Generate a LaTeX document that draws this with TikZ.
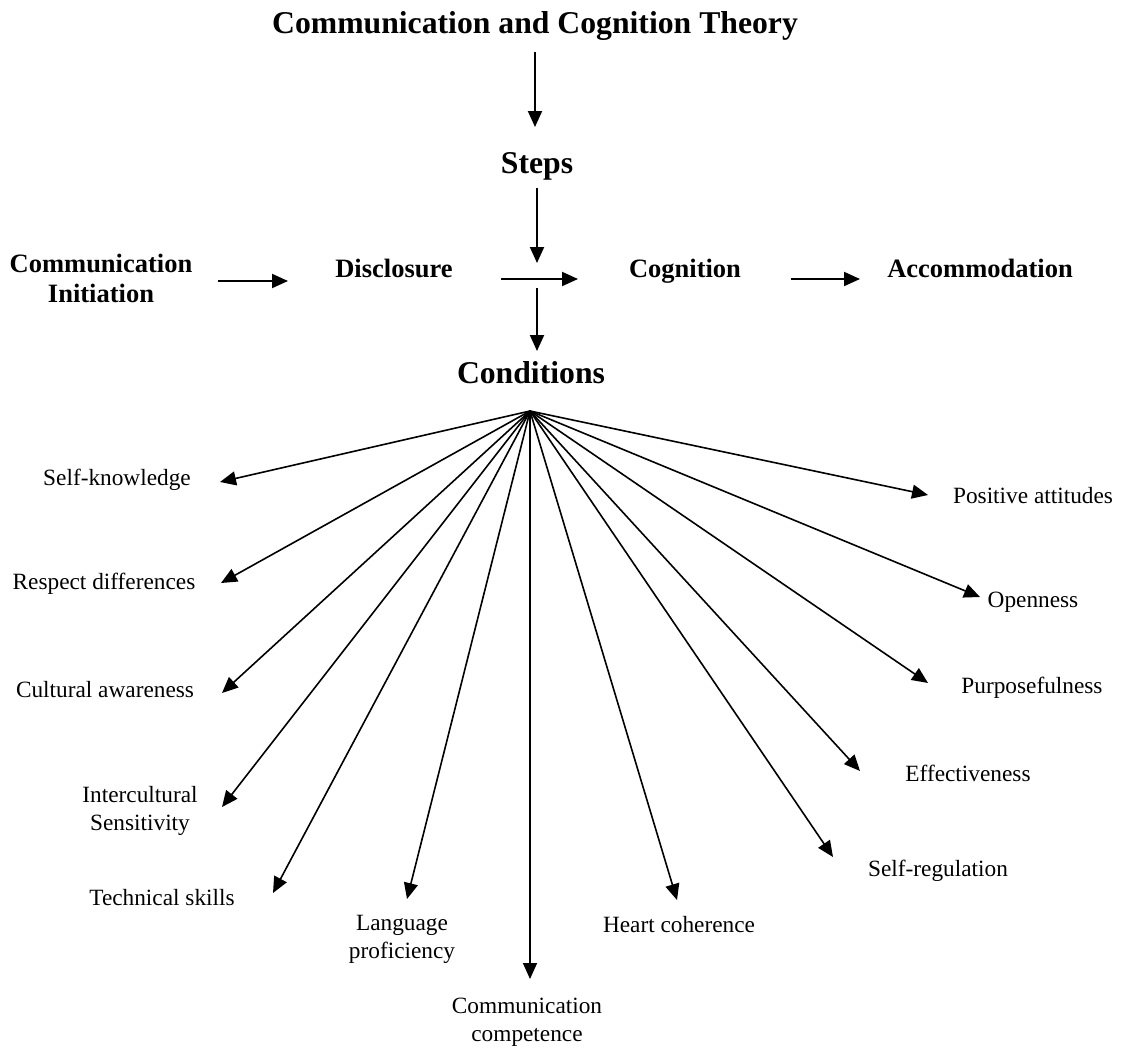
\documentclass[tikz,border=0pt]{standalone}
\usepackage{fontspec}
\setmainfont{Liberation Serif}
\usetikzlibrary{arrows.meta}
\begin{document}
\begin{tikzpicture}[x=1pt,y=-1pt,
  headnode/.style={font=\bfseries\fontsize{31.7}{36}\selectfont, inner sep=0pt, text height=0.7em, text depth=0.2em},
  stepnode/.style={font=\bfseries\fontsize{26.5}{30}\selectfont, inner sep=0pt, align=center},
  condnode/.style={font=\fontsize{23.3}{28}\selectfont, inner sep=0pt, align=center},
  mainarr/.style={line width=2pt, -{Triangle[length=16pt,width=14pt]}},
  fanarr/.style={line width=1.6pt, -{Triangle[length=16pt,width=14pt]}}]
\useasboundingbox (0,0) rectangle (1124,1052);
% headings
\node[headnode] (title) at (535,31) {Communication and Cognition Theory};
\node[headnode] (steps) at (537,171) {Steps};
\node[headnode] (cond) at (531,381) {Conditions};
% steps row
\node[stepnode] (ci) at (101,278) {Communication\\Initiation};
\node[stepnode, text height=0.7em, text depth=0.2em] (disc) at (394,275) {Disclosure};
\node[stepnode, text height=0.7em, text depth=0.2em] (cogn) at (685,275) {Cognition};
\node[stepnode, text height=0.7em, text depth=0.2em] (acc) at (980,275) {Accommodation};
% arrow end points
\coordinate (t1a) at (535,52);  \coordinate (t1b) at (535,127);
\coordinate (t2a) at (537,188); \coordinate (t2b) at (537,263);
\coordinate (t3a) at (537,288); \coordinate (t3b) at (537,351);
\coordinate (r1a) at (218,281); \coordinate (r1b) at (288,281);
\coordinate (r2a) at (501,279); \coordinate (r2b) at (578,279);
\coordinate (r3a) at (791,279); \coordinate (r3b) at (860,279);
\draw[mainarr] (t1a) -- (t1b);
\draw[mainarr] (t2a) -- (t2b);
\draw[mainarr] (t3a) -- (t3b);
\draw[mainarr] (r1a) -- (r1b);
\draw[mainarr] (r2a) -- (r2b);
\draw[mainarr] (r3a) -- (r3b);
% conditions
\coordinate (hub) at (530,411);
\node[condnode] (sk) at (117,480) {Self-knowledge};
\node[condnode] (rd) at (104,584) {Respect differences};
\node[condnode] (ca) at (105,690) {Cultural awareness};
\node[condnode] (is) at (140,811) {Intercultural\\Sensitivity};
\node[condnode] (ts) at (162,898) {Technical skills};
\node[condnode] (lp) at (402,939) {Language\\proficiency};
\node[condnode] (cc) at (527,1022) {Communication\\competence};
\node[condnode] (hc) at (679,925) {Heart coherence};
\node[condnode] (sr) at (938,871) {Self-regulation};
\node[condnode] (ef) at (968,773) {Effectiveness};
\node[condnode] (pu) at (1032,688) {Purposefulness};
\node[condnode] (op) at (1033,602) {Openness};
\node[condnode] (pa) at (1033,496) {Positive attitudes};
\coordinate (skt) at (220,482);
\coordinate (rdt) at (221,583);
\coordinate (cat) at (222,693);
\coordinate (ist) at (222,807);
\coordinate (tst) at (273,893);
\coordinate (lpt) at (407,899);
\coordinate (cct) at (530,979);
\coordinate (hct) at (677,900);
\coordinate (srt) at (833,857);
\coordinate (eft) at (860,771);
\coordinate (put) at (928,683);
\coordinate (opt) at (980,597);
\coordinate (pat) at (928,495);
\foreach \t in {skt,rdt,cat,ist,tst,lpt,cct,hct,srt,eft,put,opt,pat}
  \draw[fanarr] (hub) -- (\t);
\end{tikzpicture}
\end{document}
